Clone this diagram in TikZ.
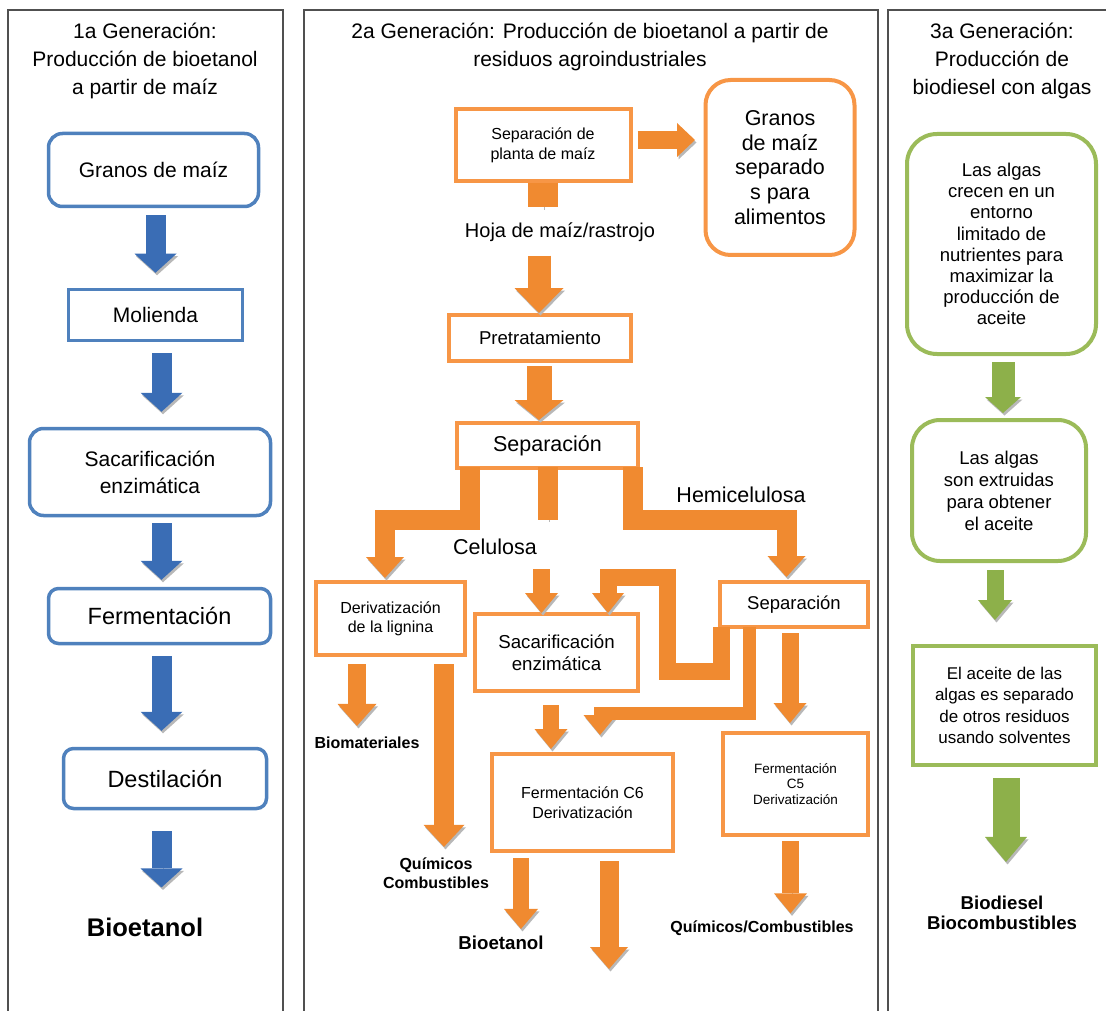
\documentclass[tikz,border=0pt]{standalone}
\usepackage{fontspec}
\setmainfont{Liberation Sans}
\usepackage{xcolor}
\usetikzlibrary{arrows.meta, positioning, calc}

\definecolor{azulborde}{HTML}{4F81BD}
\definecolor{azulflecha}{HTML}{3A6DB5}
\definecolor{naranjaborde}{HTML}{F79646}
\definecolor{naranjaflecha}{HTML}{F08A30}
\definecolor{verdeborde}{HTML}{9BBB59}
\definecolor{verdeflecha}{HTML}{8DB04A}
\definecolor{grismarco}{HTML}{505050}

\newcommand{\tam}[2]{\fontsize{#1}{#2}\selectfont}

\tikzstyle{marco} = [draw=grismarco, line width=1.3pt]
\tikzstyle{cajaazul} = [rectangle, draw=azulborde, line width=3.5pt, fill=white, inner sep=0pt, text centered]
\tikzstyle{cajanaranja} = [rectangle, draw=naranjaborde, line width=4pt, fill=white, inner sep=0pt, text centered]
\tikzstyle{cajaverde} = [rectangle, draw=verdeborde, line width=4pt, fill=white, inner sep=0pt, text centered]

\tikzset{
  sombra/.style={preaction={draw=black!28, transform canvas={shift={(1.5pt,-2.5pt)}}}},
  flecha/.style n args={4}{draw=#1, line width=#2, sombra, -{Triangle[width=#3, length=#4, line width=0pt]}},
  barra/.style={draw=naranjaflecha, line width=#1, sombra},
}

\begin{document}
\begin{tikzpicture}[x=1pt, y=-1pt, every node/.style={align=center, inner sep=0pt}]
\useasboundingbox (0,0) rectangle (1106,1011);

% marcos
\draw[marco] (8,1012) -- (8,10) -- (283,10) -- (283,1012);
\draw[marco] (304,1012) -- (304,10) -- (878,10) -- (878,1012);
\draw[marco] (888,1012) -- (888,10) -- (1107,10);

% columnas de las flechas
\coordinate (ca) at (161.5,0);
\coordinate (fy) at (0,140);
\coordinate (c2) at (539,0);
\coordinate (cl1) at (470,0);
\coordinate (cl2) at (385,0);
\coordinate (cr1) at (633,0);
\coordinate (cr2) at (786.5,0);
\coordinate (cs1) at (541.5,0);
\coordinate (cu) at (721,0);
\coordinate (cs2) at (608,0);
\coordinate (cl3) at (749,0);
\coordinate (cf6) at (600,0);
\coordinate (cr3) at (790,0);
\coordinate (cs3) at (551,0);
\coordinate (cb) at (357,0);
\coordinate (cq) at (444,0);
\coordinate (cb2) at (521,0);
\coordinate (cq2) at (790.5,0);
\coordinate (cg1) at (1003,0);
\coordinate (cg2) at (995,0);
\coordinate (cg3) at (1006,0);
\coordinate (fin) at (609,969);

% 1a generacion
\node[font=\tam{21}{28}] (tit1) at (145,61) {1a Generación:\\Producción de bioetanol\\a partir de maíz};
\node[cajaazul, rounded corners=14pt, minimum width=210pt, minimum height=73pt, font=\tam{21}{25}] (granos1) at (153.5,170) {Granos de maíz};
\node[cajaazul, minimum width=174pt, minimum height=51pt, font=\tam{21}{25}] (molienda) at (155.5,315) {Molienda};
\node[cajaazul, rounded corners=14pt, minimum width=241pt, minimum height=87pt, font=\tam{21}{27}] (sacar1) at (150,472) {Sacarificación\\enzimática};
\node[cajaazul, rounded corners=10pt, minimum width=222pt, minimum height=55pt, font=\tam{23.5}{28}] (ferm1) at (159.5,616) {Fermentación};
\node[cajaazul, rounded corners=10pt, minimum width=203pt, minimum height=60pt, font=\tam{23.5}{28}] (destil) at (165,778.5) {Destilación};
\node[font=\bfseries\tam{25.5}{30}] (bioet1) at (145,927) {Bioetanol};

\draw[flecha={azulflecha}{20pt}{42pt}{19pt}, shorten <=7pt, shorten >=15pt] (molienda.north |- granos1.south) -- (molienda.north);
\draw[flecha={azulflecha}{20pt}{42pt}{19pt}, shorten <=11pt, shorten >=15pt] (ca |- molienda.south) -- (ca |- sacar1.north);
\draw[flecha={azulflecha}{20pt}{42pt}{19pt}, shorten <=6pt, shorten >=7pt] (ca |- sacar1.south) -- (ca |- ferm1.north);
\draw[flecha={azulflecha}{20pt}{42pt}{19pt}, shorten <=11pt, shorten >=16pt] (ca |- ferm1.south) -- (ca |- destil.north);
\draw[flecha={azulflecha}{20pt}{42pt}{19pt}, shorten <=21pt, shorten >=30pt] (ca |- destil.south) -- (ca |- bioet1.north);

% 2a generacion
\node[font=\tam{21}{28}] (tit2) at (590,47) {2a Generación: Producción de bioetanol a partir de\\residuos agroindustriales};
\node[cajanaranja, minimum width=175pt, minimum height=72pt, font=\tam{16}{20}] (planta) at (543,145) {Separación de\\planta de maíz};
\node[cajanaranja, rounded corners=25pt, minimum width=149pt, minimum height=175pt, font=\tam{21.5}{24.8}] (granos2) at (780,167.5) {Granos\\de maíz\\separado\\s para\\alimentos};
\node[font=\tam{20}{24}] (hoja) at (560,232) {Hoja de maíz/rastrojo};
\node[cajanaranja, minimum width=182pt, minimum height=46pt, font=\tam{18.6}{22}] (pretrat) at (540,338) {Pretratamiento};
\node[cajanaranja, minimum width=181pt, minimum height=45pt, font=\tam{21.5}{25}] (sep2) at (547.5,445.5) {Separación};
\node[font=\tam{21.5}{25}] (hemi) at (741,495) {Hemicelulosa};
\node[font=\tam{21.5}{25}] (celu) at (495,547) {Celulosa};
\node[cajanaranja, minimum width=149pt, minimum height=73pt, font=\tam{16}{19}] (lignina) at (390.5,618.5) {Derivatización\\de la lignina};
\node[cajanaranja, minimum width=163pt, minimum height=77pt, font=\tam{18.7}{21.7}] (sacar2) at (556.5,652.5) {Sacarificación\\enzimática};
\node[cajanaranja, minimum width=148pt, minimum height=45pt, font=\tam{18.5}{22}] (sepr) at (794,604.5) {Separación};
\node[cajanaranja, minimum width=181pt, minimum height=97pt, font=\tam{16}{20}] (ferm6) at (582.5,802.5) {Fermentación C6\\Derivatización};
\node[cajanaranja, minimum width=145pt, minimum height=102pt, font=\tam{13.5}{15.5}] (ferm5) at (795.5,784) {Fermentación\\C5\\Derivatización};
\node[font=\bfseries\tam{16}{19}] (biomat) at (367,743) {Biomateriales};
\node[font=\bfseries\tam{16}{19}] (quim1) at (436,873.5) {Químicos\\Combustibles};
\node[font=\bfseries\tam{18.7}{22}] (bioet2) at (501,943) {Bioetanol};
\node[font=\bfseries\tam{16}{19}] (quim2) at (762,928) {Químicos/Combustibles};

\draw[flecha={naranjaflecha}{18pt}{34pt}{18pt}, shorten <=5pt, shorten >=8.5pt] (planta.east |- fy) -- (granos2.west |- fy);
\draw[barra=30pt, shorten >=15pt] (planta.south) -- (planta.south |- hoja.north);
\draw[flecha={naranjaflecha}{23pt}{49pt}{25pt}, shorten <=14pt] (c2 |- hoja.south) -- (c2 |- pretrat.north);
\draw[flecha={naranjaflecha}{25pt}{49pt}{20pt}, shorten <=3pt, shorten >=1pt] (c2 |- pretrat.south) -- (c2 |- sep2.north);
% ramas de la separacion
\draw[flecha={naranjaflecha}{20pt}{38pt}{21pt}, shorten <=-3pt, shorten >=2pt] (cl1 |- sep2.south) -- ++(0,50) -| (cl2 |- lignina.north);
\draw[barra=20pt, shorten <=-3pt, shorten >=19pt] (sep2.south) -- (sep2.south |- celu.north);
\draw[flecha={naranjaflecha}{20pt}{38pt}{21pt}, shorten <=-3pt, shorten >=3pt] (cr1 |- sep2.south) -- ++(0,50) -| (cr2 |- sepr.north);
\draw[flecha={naranjaflecha}{17pt}{33pt}{20pt}, shorten <=14pt, shorten >=-1pt] (cs1 |- celu.south) -- (cs1 |- sacar2.north);
\draw[flecha={naranjaflecha}{17pt}{32pt}{20pt}, shorten <=-2pt, shorten >=-1pt] (cu |- sepr.south) -- ++(0,42) -| ++(-53.5,-94) -| (cs2 |- sacar2.north);
\draw[flecha={naranjaflecha}{13pt}{33pt}{20pt}, shorten <=-2pt, shorten >=17pt] (cl3 |- sepr.south) -- ++(0,84) -| (cf6 |- ferm6.north);
\draw[flecha={naranjaflecha}{17pt}{33pt}{20pt}, shorten <=4pt, shorten >=8pt] (cr3 |- sepr.south) -- (cr3 |- ferm5.north);
\draw[flecha={naranjaflecha}{16pt}{33pt}{20pt}, shorten <=12pt, shorten >=3pt] (cs3 |- sacar2.south) -- (cs3 |- ferm6.north);
% productos
\draw[flecha={naranjaflecha}{18pt}{39pt}{22pt}, shorten <=7pt, shorten >=11pt] (cb |- lignina.south) -- (cb |- biomat.north);
\draw[flecha={naranjaflecha}{20pt}{41pt}{22pt}, shorten <=7pt, shorten >=11pt] (cq |- lignina.south) -- (cq |- quim1.north);
\draw[flecha={naranjaflecha}{16pt}{34pt}{20pt}, shorten <=5pt, shorten >=7pt] (cb2 |- ferm6.south) -- (cb2 |- bioet2.north);
\draw[flecha={naranjaflecha}{19pt}{38pt}{22pt}, shorten <=8pt] (fin |- ferm6.south) -- (fin);
\draw[flecha={naranjaflecha}{17pt}{33pt}{20pt}, shorten <=4pt, shorten >=7pt] (cq2 |- ferm5.south) -- (cq2 |- quim2.north);

% 3a generacion
\node[font=\tam{21}{28}] (tit3) at (1002,61) {3a Generación:\\Producción de\\biodiesel con algas};
\node[cajaverde, rounded corners=30pt, minimum width=189pt, minimum height=220pt, font=\tam{18.5}{21.2}] (alga1) at (1001.5,244) {Las algas\\crecen en un\\entorno\\limitado de\\nutrientes para\\maximizar la\\producción de\\aceite};
\node[cajaverde, rounded corners=28pt, minimum width=174pt, minimum height=141pt, font=\tam{18.5}{22}] (alga2) at (999,490.5) {Las algas\\son extruidas\\para obtener\\el aceite};
\node[cajaverde, minimum width=183pt, minimum height=119pt, font=\tam{17}{21.3}] (alga3) at (1004.5,705.5) {El aceite de las\\algas es separado\\de otros residuos\\usando solventes};
\node[font=\bfseries\tam{18.6}{20}] (biod) at (1002,913) {Biodiesel\\Biocombustibles};

\draw[flecha={verdeflecha}{23pt}{36pt}{16pt}, shorten <=6pt, shorten >=5pt] (cg1 |- alga1.south) -- (cg1 |- alga2.north);
\draw[flecha={verdeflecha}{17pt}{34pt}{20pt}, shorten <=7pt, shorten >=24pt] (cg2 |- alga2.south) -- (cg2 |- alga3.north);
\draw[flecha={verdeflecha}{27pt}{42pt}{25pt}, shorten <=11pt, shorten >=34pt] (cg3 |- alga3.south) -- (cg3 |- biod.north);
\end{tikzpicture}
\end{document}
